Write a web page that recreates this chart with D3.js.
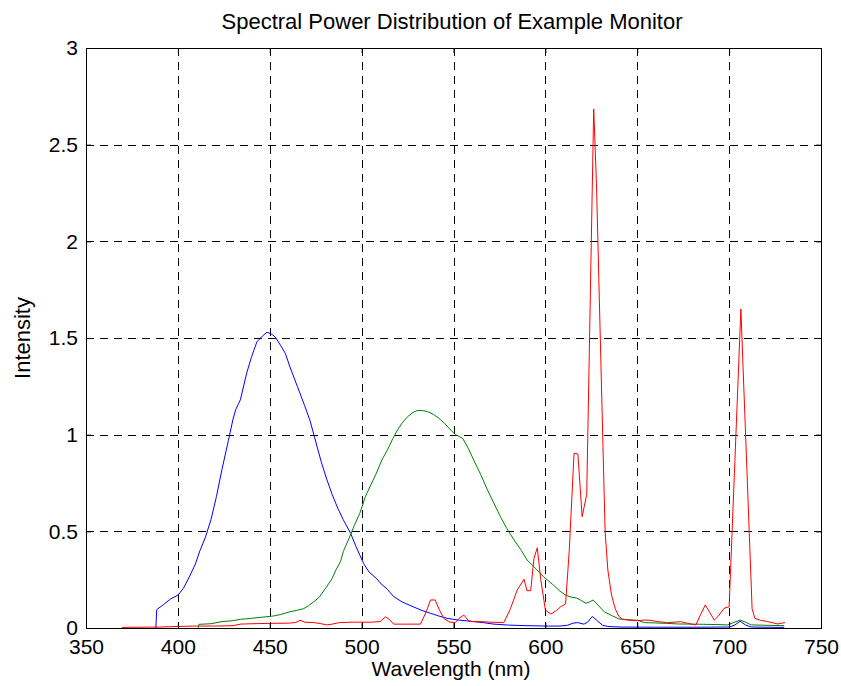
<!DOCTYPE html>
<html>
<head>
<meta charset="utf-8">
<script src="https://cdn.jsdelivr.net/npm/d3@7"></script>
<style>
  body { margin: 0; background: #fff; }
  text { font-family: "Liberation Sans", Arial, sans-serif; fill: #000; }
</style>
</head>
<body>
<div id="chart"></div>
<script>
// wavelength (nm) / intensity pairs
const blueWl  = [388,388.5,392,396,400,403,406,409.5,412,415,418,421,424,427.5,430,431.5,434,437.5,440,443,446,448.5,451,453,456,458.5,461,465,469,472,474,478,481,484,487,490,494,497,501,504,508,510,514,517.5,522,528,533,537.5,542,546.5,552,561,566,572,580,590,601,608,612,615,617.5,621,623,625.5,628,631,634,640,660,680,700,703,706,709,712,730];
const blueVal = [0,0.095,0.12,0.15,0.17,0.205,0.26,0.33,0.4,0.47,0.56,0.68,0.82,0.97,1.08,1.13,1.18,1.32,1.40,1.48,1.51,1.53,1.52,1.505,1.46,1.42,1.35,1.25,1.15,1.07,1.0,0.86,0.77,0.69,0.62,0.56,0.49,0.42,0.335,0.29,0.257,0.234,0.2,0.162,0.135,0.11,0.09,0.076,0.062,0.05,0.042,0.033,0.028,0.02,0.015,0.012,0.01,0.01,0.014,0.025,0.028,0.02,0.03,0.06,0.04,0.015,0.008,0.005,0.004,0.004,0.005,0.015,0.035,0.015,0.005,0.003];

const greenWl  = [411,411.5,418,424,430,434,440,448,452,456,461,465,468.5,471,474,477,481,484,486,488.5,490,493,496,499,502,505,508,511,514,517,519.5,522,525,528,530,533,536,539,542,545,548.5,551,555,558,561,565,568.5,572,575.5,579,583,587,590,595,599,604,608,611,614,617,619,622,624,626,628,632,636,640,645,650,654,660,666,672,680,686,693,699,703,706,709,712,720,730];
const greenVal = [0,0.019,0.022,0.033,0.038,0.045,0.05,0.058,0.062,0.07,0.084,0.092,0.1,0.115,0.136,0.16,0.214,0.257,0.3,0.343,0.395,0.46,0.53,0.593,0.679,0.74,0.8,0.869,0.92,0.98,1.024,1.06,1.093,1.115,1.124,1.125,1.119,1.105,1.085,1.06,1.024,1.0,0.981,0.93,0.869,0.79,0.714,0.645,0.576,0.515,0.455,0.4,0.352,0.305,0.265,0.225,0.19,0.17,0.16,0.155,0.145,0.128,0.135,0.145,0.125,0.084,0.065,0.047,0.043,0.04,0.028,0.026,0.024,0.021,0.02,0.019,0.018,0.016,0.03,0.041,0.03,0.016,0.014,0.012];

const redWl  = [369.5,380,390,400,410,420,430,434,440,450,460,464,466.5,469,474,478,481,484,488,495,505,510,513,515,517.5,525,532,535,537.5,540,542.5,544.7,548,551,553,555.6,558,560,565,570,577.4,581,584.7,588.4,590,592,593.8,595.6,597.5,600,603,606,608.3,611,613,615.6,617.7,620,622.5,626.3,627.8,632.5,634,636,638,640,642,646,650,653.7,657,661,666.5,670,673.7,677.4,681.9,684.5,687,689.5,691.9,694,697.3,700,706.4,712.5,714,717,721,726.4,730.4];
const redVal = [0.003,0.004,0.005,0.008,0.01,0.01,0.012,0.02,0.022,0.024,0.025,0.028,0.04,0.03,0.028,0.022,0.016,0.02,0.028,0.03,0.03,0.033,0.058,0.045,0.02,0.02,0.02,0.08,0.145,0.145,0.09,0.05,0.03,0.028,0.05,0.067,0.04,0.033,0.033,0.03,0.028,0.1,0.197,0.252,0.193,0.193,0.361,0.415,0.25,0.093,0.072,0.09,0.11,0.124,0.4,0.904,0.9,0.576,0.69,2.685,2.3,0.5,0.3,0.17,0.1,0.06,0.045,0.04,0.038,0.041,0.04,0.033,0.028,0.03,0.033,0.024,0.016,0.07,0.119,0.08,0.041,0.06,0.102,0.11,1.65,0.1,0.05,0.04,0.033,0.021,0.028];

const xTicks = [350,400,450,500,550,600,650,700,750];
const yTicks = [0,0.5,1,1.5,2,2.5,3];

const width = 841, height = 686;
const plotL = 86, plotR = 821, plotT = 48, plotB = 628;

const svg = d3.select("#chart").append("svg")
    .attr("width", width)
    .attr("height", height);

const x = d3.scaleLinear().domain([350, 750]).range([plotL, plotR]);
const y = d3.scaleLinear().domain([0, 3]).range([plotB, plotT]);

// grid, dashed
const grid = svg.append("g")
    .attr("stroke", "#000")
    .attr("stroke-width", 1)
    .attr("stroke-dasharray", "8,6");

grid.selectAll(".vgrid")
    .data(xTicks.slice(1, -1))
    .enter().append("line")
    .attr("x1", d => Math.round(x(d)) + 0.5)
    .attr("x2", d => Math.round(x(d)) + 0.5)
    .attr("y1", plotT)
    .attr("y2", plotB);

grid.selectAll(".hgrid")
    .data(yTicks.slice(1, -1))
    .enter().append("line")
    .attr("x1", plotL)
    .attr("x2", plotR)
    .attr("y1", d => Math.round(y(d)) + 0.5)
    .attr("y2", d => Math.round(y(d)) + 0.5);

// spectra
const line = d3.line()
    .x(d => x(d[0]))
    .y(d => y(d[1]));

const series = [
    {wl: blueWl, val: blueVal, color: "#0000ff"},
    {wl: greenWl, val: greenVal, color: "#008000"},
    {wl: redWl, val: redVal, color: "#ff0000"}
];

series.forEach(s => {
    svg.append("path")
        .datum(s.wl.map((w, i) => [w, s.val[i]]))
        .attr("fill", "none")
        .attr("stroke", s.color)
        .attr("stroke-width", 1)
        .attr("d", line);
});

// axes, ticks point inward
svg.append("g")
    .attr("transform", `translate(0, ${plotB})`)
    .call(d3.axisBottom(x).tickValues(xTicks).tickSize(-5).tickPadding(11).tickFormat(d3.format("d")));

svg.append("g")
    .attr("transform", `translate(${plotL}, 0)`)
    .call(d3.axisLeft(y).tickValues(yTicks).tickSize(-5).tickPadding(8).tickFormat(d => d));

svg.append("g")
    .attr("transform", `translate(0, ${plotT})`)
    .call(d3.axisTop(x).tickValues(xTicks).tickSize(-5).tickFormat(""));

svg.append("g")
    .attr("transform", `translate(${plotR}, 0)`)
    .call(d3.axisRight(y).tickValues(yTicks).tickSize(-5).tickFormat(""));

svg.selectAll(".domain").remove();
svg.selectAll(".tick line").attr("stroke", "#000");
svg.selectAll(".tick text")
    .attr("fill", "#000")
    .style("font-family", '"Liberation Sans", Arial, sans-serif')
    .style("font-size", "21px");

// box
svg.append("rect")
    .attr("x", plotL + 0.5)
    .attr("y", plotT + 0.5)
    .attr("width", plotR - plotL)
    .attr("height", plotB - plotT)
    .attr("fill", "none")
    .attr("stroke", "#000")
    .attr("stroke-width", 1);

// titles
svg.append("text")
    .attr("x", 452)
    .attr("y", 29)
    .attr("text-anchor", "middle")
    .style("font-size", "22px")
    .text("Spectral Power Distribution of Example Monitor");

svg.append("text")
    .attr("x", 451)
    .attr("y", 676)
    .attr("text-anchor", "middle")
    .style("font-size", "21px")
    .text("Wavelength (nm)");

svg.append("text")
    .attr("transform", `translate(30, ${(plotT + plotB) / 2}) rotate(-90)`)
    .attr("text-anchor", "middle")
    .style("font-size", "22px")
    .text("Intensity");
</script>
</body>
</html>
